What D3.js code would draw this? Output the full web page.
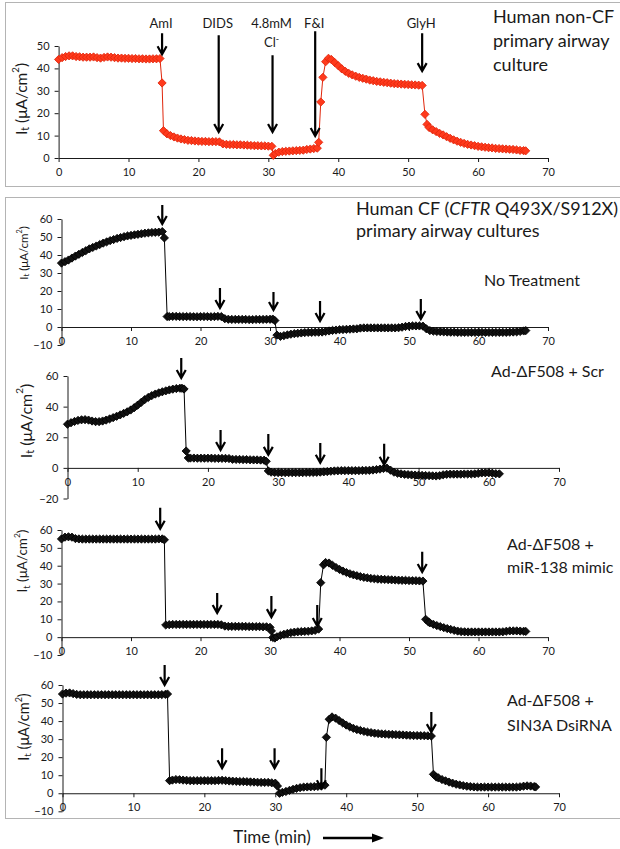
<!DOCTYPE html>
<html>
<head>
<meta charset="utf-8">
<script src="https://cdn.jsdelivr.net/npm/d3@7"></script>
<style>
  body { margin: 0; background: #fff; }
  svg { display: block; }
  text { font-family: Lato, "Open Sans", sans-serif; fill: #1a1a1a; }
</style>
</head>
<body>
<svg id="chart" width="620" height="849"></svg>
<script>
// ---- Time axis ticks (min) ----
const timeTicks = [0, 10, 20, 30, 40, 50, 60, 70];

// ---- Short-circuit current traces, [time (min), It (µA/cm²)] ----
const nonCF = [
  [0,44.0],[0.5,44.8],[1,45.3],[1.5,45.6],[2,45.6],[2.5,45.3],[3,45.2],[3.5,45.0],[4,45.0],[4.5,45.0],
  [5,45.1],[5.5,44.8],[6,44.6],[6.5,44.9],[7,45.1],[7.5,45.0],[8,44.8],[8.5,44.6],[9,44.6],[9.5,44.5],
  [10,44.5],[10.5,44.4],[11,44.4],[11.5,44.3],[12,44.3],[12.5,44.2],[13,44.2],[13.5,44.3],[14,44.3],[14.5,44.4],
  [14.8,33.5],[15.0,12.2],[15.5,10.8],[16,10.0],[16.5,9.4],[17,8.9],[17.5,8.5],[18,8.2],[18.5,7.9],[19,7.8],
  [19.5,7.6],[20,7.5],[20.5,7.4],[21,7.4],[21.5,7.3],[22,7.3],[22.5,7.3],[23,7.2],[23.5,6.3],[24,6.1],
  [24.5,6.0],[25,6.0],[25.5,5.9],[26,5.9],[26.5,5.8],[27,5.7],[27.5,5.6],[28,5.5],[28.5,5.5],[29,5.4],
  [29.5,5.4],[30,5.3],[30.5,5.2],[30.7,1.2],[31,2.0],[31.5,2.6],[32,2.9],[32.5,3.0],[33,3.1],[33.5,3.2],
  [34,3.3],[34.5,3.4],[35,3.5],[35.5,3.8],[36,4.0],[36.5,4.2],[37,4.4],[37.2,7.0],[37.5,25.0],[37.8,36.0],
  [38.2,43.0],[38.6,44.5],[39,44.0],[39.5,42.6],[40,41.2],[40.5,39.8],[41,38.7],[41.5,37.8],[42,37.1],[42.5,36.5],
  [43,36.0],[43.5,35.6],[44,35.2],[44.5,34.8],[45,34.5],[45.5,34.2],[46,34.0],[46.5,33.8],[47,33.6],[47.5,33.4],
  [48,33.2],[48.5,33.1],[49,33.0],[49.5,32.9],[50,32.8],[50.5,32.7],[51,32.6],[51.5,32.5],[52,32.4],[52.4,19.5],
  [52.7,15.0],[53,13.6],[53.5,12.6],[54,11.8],[54.5,11.0],[55,10.3],[55.5,9.5],[56,8.8],[56.5,8.1],[57,7.5],
  [57.5,7.0],[58,6.5],[58.5,6.1],[59,5.8],[59.5,5.5],[60,5.2],[60.5,5.0],[61,4.8],[61.5,4.6],[62,4.5],
  [62.5,4.3],[63,4.2],[63.5,4.1],[64,4.0],[64.5,3.9],[65,3.8],[65.5,3.6],[66,3.4],[66.5,3.3],[66.8,3.2]
];

const noTreatment = [
  [0,35.5],[0.5,36.3],[1,37.2],[1.5,38.3],[2,39.4],[2.5,40.4],[3,41.4],[3.5,42.4],[4,43.4],[4.5,44.2],
  [5,45.0],[5.5,45.8],[6,46.6],[6.5,47.3],[7,48.0],[7.5,48.6],[8,49.2],[8.5,49.7],[9,50.2],[9.5,50.6],
  [10,50.9],[10.5,51.2],[11,51.5],[11.5,51.8],[12,52.1],[12.5,52.3],[13,52.5],[13.5,52.6],[14,52.7],[14.5,53.0],
  [14.8,49.5],[15.2,5.8],[15.5,5.8],[16,5.9],[16.5,5.9],[17,5.8],[17.5,5.8],[18,5.8],[18.5,5.8],[19,5.7],
  [19.5,5.7],[20,5.8],[20.5,5.8],[21,5.8],[21.5,5.7],[22,5.8],[22.5,5.9],[23,5.8],[23.5,4.6],[24,4.3],
  [24.5,4.2],[25,4.2],[25.5,4.2],[26,4.2],[26.5,4.2],[27,4.1],[27.5,4.1],[28,4.2],[28.5,4.2],[29,4.2],
  [29.5,4.3],[30,4.3],[30.4,4.4],[30.7,3.6],[31,-4.5],[31.5,-5.2],[32,-4.8],[32.5,-4.4],[33,-4.0],[33.5,-3.7],
  [34,-3.5],[34.5,-3.3],[35,-3.1],[35.5,-3.0],[36,-3.0],[36.5,-2.9],[37,-2.9],[37.5,-2.8],[38,-2.5],[38.5,-2.2],
  [39,-1.9],[39.5,-1.7],[40,-1.5],[40.5,-1.4],[41,-1.3],[41.5,-1.2],[42,-1.1],[42.5,-1.0],[43,-0.6],[43.5,-0.5],
  [44,-0.5],[44.5,-0.5],[45,-0.5],[45.5,-0.5],[46,-0.5],[46.5,-0.5],[47,-0.5],[47.5,-0.5],[48,-0.5],[48.5,-0.4],
  [49,-0.1],[49.5,0.3],[50,0.5],[50.5,0.6],[51,0.6],[51.5,0.6],[52,0.5],[52.5,-1.0],[53,-2.0],[53.5,-2.3],
  [54,-2.5],[54.5,-2.6],[55,-2.7],[55.5,-2.8],[56,-2.9],[56.5,-2.9],[57,-3.0],[57.5,-3.0],[58,-3.0],[58.5,-3.0],
  [59,-3.0],[59.5,-3.0],[60,-3.0],[60.5,-3.0],[61,-3.0],[61.5,-3.0],[62,-3.0],[62.5,-3.0],[63,-3.0],[63.5,-3.0],
  [64,-3.0],[64.5,-2.9],[65,-2.8],[65.5,-2.7],[66,-2.5],[66.5,-2.2],[66.8,-2.0]
];

const scr = [
  [0,28.5],[0.5,29.5],[1,30.3],[1.5,31.0],[2,31.4],[2.5,31.5],[3,31.2],[3.5,30.6],[4,30.2],[4.5,30.2],
  [5,30.6],[5.5,31.2],[6,32.0],[6.5,32.8],[7,33.7],[7.5,34.6],[8,35.6],[8.5,36.6],[9,37.8],[9.5,39.3],
  [10,41.0],[10.5,42.8],[11,44.6],[11.5,46.0],[12,47.2],[12.5,48.2],[13,49.0],[13.5,49.7],[14,50.3],[14.5,50.9],
  [15,51.4],[15.5,51.8],[16,52.0],[16.3,52.0],[16.6,51.5],[16.9,11.0],[17.2,6.5],[17.5,6.4],[18,6.4],[18.5,6.3],
  [19,6.3],[19.5,6.3],[20,6.3],[20.5,6.3],[21,6.2],[21.5,6.2],[22,6.2],[22.5,6.2],[23,6.1],[23.5,5.6],
  [24,5.5],[24.5,5.5],[25,5.4],[25.5,5.4],[26,5.3],[26.5,5.2],[27,5.2],[27.5,5.1],[28,5.0],[28.3,4.3],
  [28.6,-2.0],[29,-2.8],[29.5,-3.0],[30,-3.1],[30.5,-3.1],[31,-3.1],[31.5,-3.1],[32,-3.1],[32.5,-3.1],[33,-3.1],
  [33.5,-3.1],[34,-3.0],[34.5,-3.0],[35,-3.0],[35.5,-2.9],[36,-2.8],[36.5,-2.6],[37,-2.4],[37.5,-2.2],[38,-2.0],
  [38.5,-1.9],[39,-1.8],[39.5,-1.8],[40,-1.8],[40.5,-1.8],[41,-1.8],[41.5,-1.8],[42,-1.7],[42.5,-1.7],[43,-1.6],
  [43.5,-1.4],[44,-1.1],[44.5,-0.8],[45,-0.4],[45.5,-0.2],[46,-1.5],[46.5,-2.8],[47,-3.5],[47.5,-3.9],[48,-4.2],
  [48.5,-4.4],[49,-4.6],[49.5,-4.7],[50,-4.8],[50.5,-4.9],[51,-5.0],[51.5,-5.1],[52,-5.2],[52.5,-5.3],[53,-5.1],
  [53.5,-4.5],[54,-4.2],[54.5,-4.1],[55,-4.1],[55.5,-4.1],[56,-4.1],[56.5,-4.0],[57,-4.0],[57.5,-4.0],[58,-3.9],
  [58.5,-3.6],[59,-3.3],[59.5,-3.2],[60,-3.2],[60.5,-3.5],[61,-3.8],[61.5,-3.9]
];

const mimic = [
  [0,55.0],[0.5,56.0],[1,56.2],[1.5,56.0],[2,55.2],[2.5,55.0],[3,54.9],[3.5,54.9],[4,54.9],[4.5,54.9],
  [5,54.9],[5.5,54.9],[6,54.9],[6.5,54.9],[7,54.9],[7.5,54.9],[8,54.9],[8.5,54.9],[9,54.9],[9.5,54.9],
  [10,54.9],[10.5,54.9],[11,54.9],[11.5,54.9],[12,54.9],[12.5,54.9],[13,54.9],[13.5,54.9],[14,55.0],[14.5,55.0],
  [14.8,54.5],[15.0,6.8],[15.5,7.0],[16,7.1],[16.5,7.1],[17,7.1],[17.5,7.1],[18,7.1],[18.5,7.1],[19,7.1],
  [19.5,7.1],[20,7.1],[20.5,7.1],[21,7.1],[21.5,7.1],[22,7.1],[22.5,7.1],[23,6.9],[23.5,6.2],[24,6.0],
  [24.5,6.0],[25,6.0],[25.5,6.0],[26,6.0],[26.5,6.0],[27,5.9],[27.5,5.9],[28,5.9],[28.5,5.9],[29,5.8],
  [29.5,5.8],[30,5.5],[30.2,3.5],[30.4,-0.2],[30.7,-0.5],[31,0.2],[31.5,1.0],[32,1.6],[32.5,2.1],[33,2.5],
  [33.5,2.8],[34,3.0],[34.5,3.1],[35,3.2],[35.5,3.3],[36,3.5],[36.5,3.8],[37,4.5],[37.3,30.5],[37.7,40.5],
  [38,41.8],[38.5,41.5],[39,40.2],[39.5,39.0],[40,37.9],[40.5,37.0],[41,36.2],[41.5,35.5],[42,34.9],[42.5,34.4],
  [43,33.9],[43.5,33.5],[44,33.2],[44.5,32.9],[45,32.7],[45.5,32.5],[46,32.4],[46.5,32.3],[47,32.2],[47.5,32.1],
  [48,32.0],[48.5,31.9],[49,31.8],[49.5,31.8],[50,31.7],[50.5,31.6],[51,31.6],[51.5,31.5],[52,31.4],[52.4,10.0],
  [52.8,8.5],[53,8.0],[53.5,7.2],[54,6.5],[54.5,5.9],[55,5.3],[55.5,4.8],[56,4.3],[56.5,3.8],[57,3.4],
  [57.5,3.1],[58,3.0],[58.5,2.9],[59,2.9],[59.5,2.9],[60,2.9],[60.5,2.9],[61,2.9],[61.5,2.9],[62,2.9],
  [62.5,2.9],[63,2.9],[63.5,3.0],[64,3.3],[64.5,3.5],[65,3.5],[65.5,3.5],[66,3.4],[66.5,3.3],[66.8,3.2]
];

const sin3a = [
  [0,55.0],[0.5,55.5],[1,55.6],[1.5,55.2],[2,54.8],[2.5,54.6],[3,54.6],[3.5,54.6],[4,54.6],[4.5,54.6],
  [5,54.6],[5.5,54.6],[6,54.6],[6.5,54.6],[7,54.6],[7.5,54.6],[8,54.6],[8.5,54.6],[9,54.6],[9.5,54.6],
  [10,54.6],[10.5,54.6],[11,54.6],[11.5,54.6],[12,54.6],[12.5,54.6],[13,54.6],[13.5,54.6],[14,54.7],[14.5,54.8],
  [14.8,55.0],[15.1,7.0],[15.5,7.3],[16,7.6],[16.5,7.5],[17,7.3],[17.5,7.2],[18,7.0],[18.5,7.0],[19,7.0],
  [19.5,7.0],[20,7.0],[20.5,7.0],[21,7.0],[21.5,7.0],[22,7.1],[22.5,7.2],[23,7.0],[23.5,6.8],[24,6.7],
  [24.5,6.6],[25,6.5],[25.5,6.5],[26,6.4],[26.5,6.3],[27,6.2],[27.5,6.1],[28,6.0],[28.5,6.0],[29,6.0],
  [29.5,5.8],[30,5.6],[30.3,4.0],[30.6,0.0],[31,0.5],[31.5,1.0],[32,1.6],[32.5,2.2],[33,2.7],[33.5,3.1],
  [34,3.4],[34.5,3.5],[35,3.6],[35.5,3.7],[36,3.8],[36.5,4.0],[37,4.5],[37.2,31.0],[37.6,41.0],[38,42.3],
  [38.5,41.6],[39,40.3],[39.5,39.0],[40,37.8],[40.5,36.8],[41,36.0],[41.5,35.3],[42,34.8],[42.5,34.3],[43,33.9],
  [43.5,33.6],[44,33.3],[44.5,33.1],[45,32.9],[45.5,32.8],[46,32.7],[46.5,32.6],[47,32.5],[47.5,32.4],[48,32.3],
  [48.5,32.2],[49,32.1],[49.5,32.0],[50,32.0],[50.5,31.9],[51,31.9],[51.5,31.8],[52,31.7],[52.3,10.5],[52.7,9.0],
  [53,8.5],[53.5,7.6],[54,6.9],[54.5,6.2],[55,5.6],[55.5,5.0],[56,4.6],[56.5,4.2],[57,3.9],[57.5,3.7],
  [58,3.5],[58.5,3.4],[59,3.4],[59.5,3.4],[60,3.4],[60.5,3.4],[61,3.4],[61.5,3.4],[62,3.4],[62.5,3.4],
  [63,3.4],[63.5,3.4],[64,3.4],[64.5,3.6],[65,3.9],[65.5,4.1],[66,4.0],[66.5,3.7],[66.7,3.5]
];

// ---- Drug additions: time of addition, arrow top and tip (in It units) ----
const nonCFAdditions = [
  { t: 14.8, top: 55.7, tip: 46.3, label: ["AmI"] },
  { t: 22.9, top: 54.8, tip: 11.6, label: ["DIDS"] },
  { t: 30.6, top: 45.9, tip: 11.6, label: ["4.8mM", "Cl|-"] },
  { t: 36.7, top: 56.6, tip: 9.8,  label: ["F&I"] },
  { t: 52.0, top: 55.7, tip: 38.8, label: ["GlyH"] }
];
const noTreatmentAdditions = [
  { t: 14.5, top: 67.8, tip: 57.2 }, { t: 22.8, top: 21.7, tip: 10.6 },
  { t: 30.5, top: 19.4, tip: 9.4 },  { t: 37.2, top: 14.4, tip: 3.3 },
  { t: 51.7, top: 15.6, tip: 4.4 }
];
const scrAdditions = [
  { t: 16.2, top: 71.8, tip: 58.7 }, { t: 21.8, top: 24.8, tip: 11.7 },
  { t: 28.6, top: 22.2, tip: 8.5 },  { t: 36.0, top: 16.3, tip: 3.3 },
  { t: 45.1, top: 15.7, tip: 2.0 }
];
const mimicAdditions = [
  { t: 14.2, top: 72.5, tip: 60.7 }, { t: 22.4, top: 24.7, tip: 13.5 },
  { t: 30.2, top: 23.0, tip: 11.2 }, { t: 36.8, top: 18.0, tip: 6.2 },
  { t: 51.9, top: 47.8, tip: 36.5 }
];
const sin3aAdditions = [
  { t: 14.4, top: 71.1, tip: 60.0 }, { t: 22.5, top: 25.0, tip: 13.9 },
  { t: 29.9, top: 25.0, tip: 13.9 }, { t: 36.5, top: 13.9, tip: 2.8 },
  { t: 52.0, top: 45.0, tip: 33.9 }
];

// ---- Y tick values ----
const ticks0to50 = [0, 10, 20, 30, 40, 50];
const ticksM10to60 = [-10, 0, 10, 20, 30, 40, 50, 60];
const ticksM20to60 = [-20, 0, 20, 40, 60];

// ---- Panel captions ----
const nonCFCaption = ["Human non-CF", "primary airway", "culture"];
const scrCaption = ["Ad-\u0394F508 + Scr"];
const mimicCaption = ["Ad-\u0394F508 +", "miR-138 mimic"];
const sin3aCaption = ["Ad-\u0394F508 +", "SIN3A DsiRNA"];

const svg = d3.select("#chart");

// frames around the two figure blocks
svg.append("rect").attr("x", 5.5).attr("y", 2.5).attr("width", 640).attr("height", 184)
  .attr("fill", "none").attr("stroke", "#b4b4b4").attr("stroke-width", 1);
svg.append("rect").attr("x", 5.5).attr("y", 197.5).attr("width", 640).attr("height", 621)
  .attr("fill", "none").attr("stroke", "#b4b4b4").attr("stroke-width", 1);

const panels = [
  { data: nonCF, adds: nonCFAdditions, fill: "#ff3a1c", edge: "#e0260c",
    xr: [58.6, 548], yr: [158, 46], yDomain: [0, 50], yTicks: ticks0to50,
    yTitle: { x: 21, y: 99, size: 15.5 } },
  { data: noTreatment, adds: noTreatmentAdditions, fill: "#111", edge: "#000",
    xr: [61.5, 548], yr: [345, 219], yDomain: [-10, 60], yTicks: ticksM10to60,
    yTitle: { x: 23, y: 253, size: 11.5 } },
  { data: scr, adds: scrAdditions, fill: "#111", edge: "#000",
    xr: [67.5, 559], yr: [498.5, 376], yDomain: [-20, 60], yTicks: ticksM20to60,
    yTitle: { x: 25, y: 421, size: 16 } },
  { data: mimic, adds: mimicAdditions, fill: "#111", edge: "#000",
    xr: [61.5, 548], yr: [655, 530], yDomain: [-10, 60], yTicks: ticksM10to60,
    yTitle: { x: 22, y: 561, size: 13.5 } },
  { data: sin3a, adds: sin3aAdditions, fill: "#111", edge: "#000",
    xr: [62.5, 559], yr: [811.3, 685], yDomain: [-10, 60], yTicks: ticksM10to60,
    yTitle: { x: 23, y: 727, size: 14.5 } }
];

// diamond marker: a square turned 45°
const diamond = d3.symbol().type(d3.symbolSquare).size(34)();

function drawYTitle(g, p) {
  const t = g.append("text")
    .attr("transform", `translate(${p.yTitle.x},${p.yTitle.y}) rotate(-90)`)
    .attr("text-anchor", "middle").attr("dominant-baseline", "central")
    .style("font-size", p.yTitle.size + "px");
  const s = p.yTitle.size;
  t.append("tspan").text("I");
  t.append("tspan").text("t").style("font-size", (s * 0.68) + "px").attr("dy", s * 0.28);
  t.append("tspan").text(" (\u03bcA/cm").attr("dy", -s * 0.28);
  t.append("tspan").text("2").style("font-size", (s * 0.62) + "px").attr("dy", -s * 0.36);
  t.append("tspan").text(")").attr("dy", s * 0.36);
}

panels.forEach(p => {
  const g = svg.append("g");
  const x = d3.scaleLinear().domain([0, 70]).range(p.xr);
  const y = d3.scaleLinear().domain(p.yDomain).range(p.yr);

  // y axis
  const ya = g.append("g").attr("transform", `translate(${p.xr[0]},0)`)
    .call(d3.axisLeft(y).tickValues(p.yTicks).tickSize(4).tickSizeOuter(0).tickPadding(5));
  // x axis at It = 0
  const xa = g.append("g").attr("transform", `translate(0,${y(0)})`)
    .call(d3.axisBottom(x).tickValues(timeTicks).tickSize(4).tickSizeOuter(0).tickPadding(6));
  [ya, xa].forEach(a => {
    a.select(".domain").attr("stroke", "#1a1a1a");
    a.selectAll(".tick line").attr("stroke", "#1a1a1a");
    a.selectAll(".tick text").style("font-size", "11px").style("font-family", "Lato, 'Open Sans', sans-serif")
      .attr("fill", "#222");
  });

  drawYTitle(g, p);

  // connecting line
  g.append("path").datum(p.data)
    .attr("fill", "none").attr("stroke", p.edge).attr("stroke-width", 1)
    .attr("d", d3.line().x(d => x(d[0])).y(d => y(d[1])));

  // diamond markers
  g.append("g").selectAll("path").data(p.data).join("path")
    .attr("d", diamond)
    .attr("transform", d => `translate(${x(d[0])},${y(d[1])}) rotate(45)`)
    .attr("fill", p.fill).attr("stroke", p.edge).attr("stroke-width", 0.8);

  // addition arrows
  p.adds.forEach(a => {
    const ax = x(a.t), y1 = y(a.top), y2 = y(a.tip);
    g.append("path")
      .attr("d", `M${ax},${y1}V${y2 - 1}M${ax - 4.5},${y2 - 8}L${ax},${y2}L${ax + 4.5},${y2 - 8}`)
      .attr("fill", "none").attr("stroke", "#000").attr("stroke-width", 2.2)
      .attr("stroke-linejoin", "miter");
    if (a.label) {
      a.label.forEach((line, i) => {
        const txt = g.append("text").attr("x", ax - 1).attr("y", 28 + i * 19)
          .attr("text-anchor", "middle").style("font-size", "13px");
        const parts = line.split("|");
        txt.append("tspan").text(parts[0]);
        if (parts[1]) txt.append("tspan").text(parts[1]).style("font-size", "9px").attr("dy", -5);
      });
    }
  });
});

// captions
function caption(lines, x0, y0, step, size) {
  lines.forEach((l, i) => {
    svg.append("text").attr("x", x0).attr("y", y0 + i * step).style("font-size", size + "px").text(l);
  });
}
caption(nonCFCaption, 493, 23, 24, 18);

const cfTitle = svg.append("text").attr("x", 356).attr("y", 215).style("font-size", "18px");
cfTitle.append("tspan").text("Human CF (");
cfTitle.append("tspan").text("CFTR").style("font-style", "italic");
cfTitle.append("tspan").text(" Q493X/S912X)");
svg.append("text").attr("x", 356).attr("y", 237).style("font-size", "18px").text("primary airway cultures");
svg.append("text").attr("x", 484).attr("y", 286).style("font-size", "16px").text("No Treatment");

caption(scrCaption, 491, 377, 24, 16);
caption(mimicCaption, 507, 550, 23, 16);
caption(sin3aCaption, 507, 706, 25, 16);

// time axis title with arrow
svg.append("text").attr("x", 272).attr("y", 843).attr("text-anchor", "middle")
  .style("font-size", "17px").text("Time (min)");
svg.append("line").attr("x1", 323).attr("x2", 374).attr("y1", 838).attr("y2", 838)
  .attr("stroke", "#000").attr("stroke-width", 2.5);
svg.append("path").attr("d", "M372,833.5L384,838L372,842.5Z").attr("fill", "#000");
</script>
</body>
</html>
